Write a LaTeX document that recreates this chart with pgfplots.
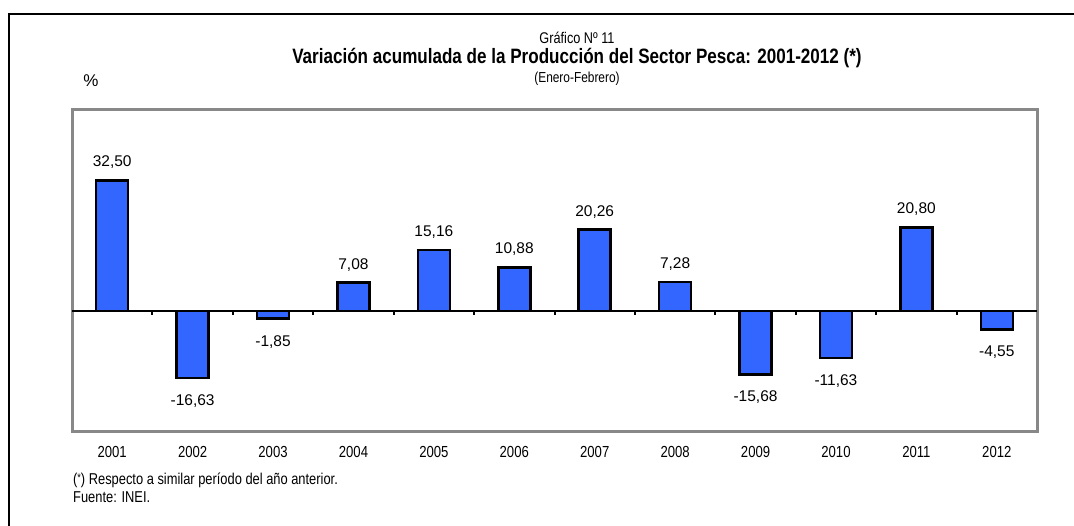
\documentclass[border=0pt]{standalone}
\usepackage{fontspec}
\setmainfont{Liberation Sans}
\newfontfamily\narrow{Liberation Sans}[FakeStretch=0.82]
\usepackage{pgfplots}
\usepackage{pgfplotstable}
\pgfplotsset{compat=1.18}
\definecolor{barblue}{RGB}{51,102,255}
\definecolor{framegray}{RGB}{136,136,136}
\pgfplotstableread{
x y label
0 32.50 32,50
3 7.08 7,08
4 15.16 15,16
5 10.88 10,88
6 20.26 20,26
7 7.28 7,28
10 20.80 20,80
}\pos
\pgfplotstableread{
x y label
1 -16.63 -16,63
2 -1.85 -1,85
8 -15.68 -15,68
9 -11.63 -11,63
11 -4.55 -4,55
}\neg
\begin{document}
\begin{tikzpicture}
\useasboundingbox (0,0) rectangle (1074pt,526pt);
% outer frame (clipped at right and bottom)
\draw[black, line width=2.5pt] (9pt,0pt) -- (9pt,512pt) -- (1080pt,512pt);
\begin{axis}[
  at={(72pt,94pt)}, anchor=south west,
  scale only axis, width=965pt, height=322pt,
  xmin=-0.5, xmax=11.5, ymin=-30, ymax=50,
  axis line style={framegray, line width=3pt},
  ytick=\empty,
  xtick={0,...,11},
  xticklabels={2001,2002,2003,2004,2005,2006,2007,2008,2009,2010,2011,2012},
  major tick length=0pt,
  xticklabel style={anchor=center, yshift=-20pt, font=\narrow\fontsize{16}{18}\selectfont},
  ybar, bar width=32pt,
  clip=false,
]
\addplot[ybar, bar shift=0pt, fill=barblue, draw=black, line width=2.5pt,
  point meta=explicit symbolic, nodes near coords,
  every node near coord/.append style={anchor=center, yshift=18pt, font=\fontsize{15.5}{17}\selectfont, line width=0pt, black}]
  table[x=x, y=y, meta=label] {\pos};
\addplot[ybar, bar shift=0pt, fill=barblue, draw=black, line width=2.5pt,
  point meta=explicit symbolic, nodes near coords,
  every node near coord/.append style={anchor=center, yshift=-23pt, font=\fontsize{15.5}{17}\selectfont, line width=0pt, black}]
  table[x=x, y=y, meta=label] {\neg};
\draw[black, line width=2.5pt] (axis cs:-0.5,0) -- (axis cs:11.5,0);
\pgfplotsinvokeforeach{0.5,1.5,2.5,3.5,4.5,5.5,6.5,7.5,8.5,9.5,10.5}{
  \draw[black, line width=2pt] (axis cs:#1,0) -- ++(0pt,-4pt);
}
\end{axis}
\node[font=\narrow\fontsize{15.5}{17}\selectfont] at (577pt,488pt) {Gráfico Nº 11};
\node[font=\narrow\bfseries\fontsize{20.8}{24}\selectfont] at (577pt,468pt) {Variación acumulada de la Producción del Sector Pesca: 2001-2012 (*)};
\node[font=\narrow\fontsize{14.5}{16}\selectfont] at (577pt,447pt) {(Enero-Febrero)};
\node[font=\fontsize{17}{19}\selectfont] at (91pt,445pt) {\%};
\node[anchor=west, inner sep=0pt, font=\narrow\fontsize{15.7}{18}\selectfont] at (73pt,46pt) {({\fontsize{11}{11}\selectfont\raisebox{3pt}{*}}) Respecto a similar período del año anterior.};
\node[anchor=west, inner sep=0pt, font=\narrow\fontsize{15.7}{18}\selectfont] at (73pt,29pt) {Fuente: INEI.};
\end{tikzpicture}
\end{document}
